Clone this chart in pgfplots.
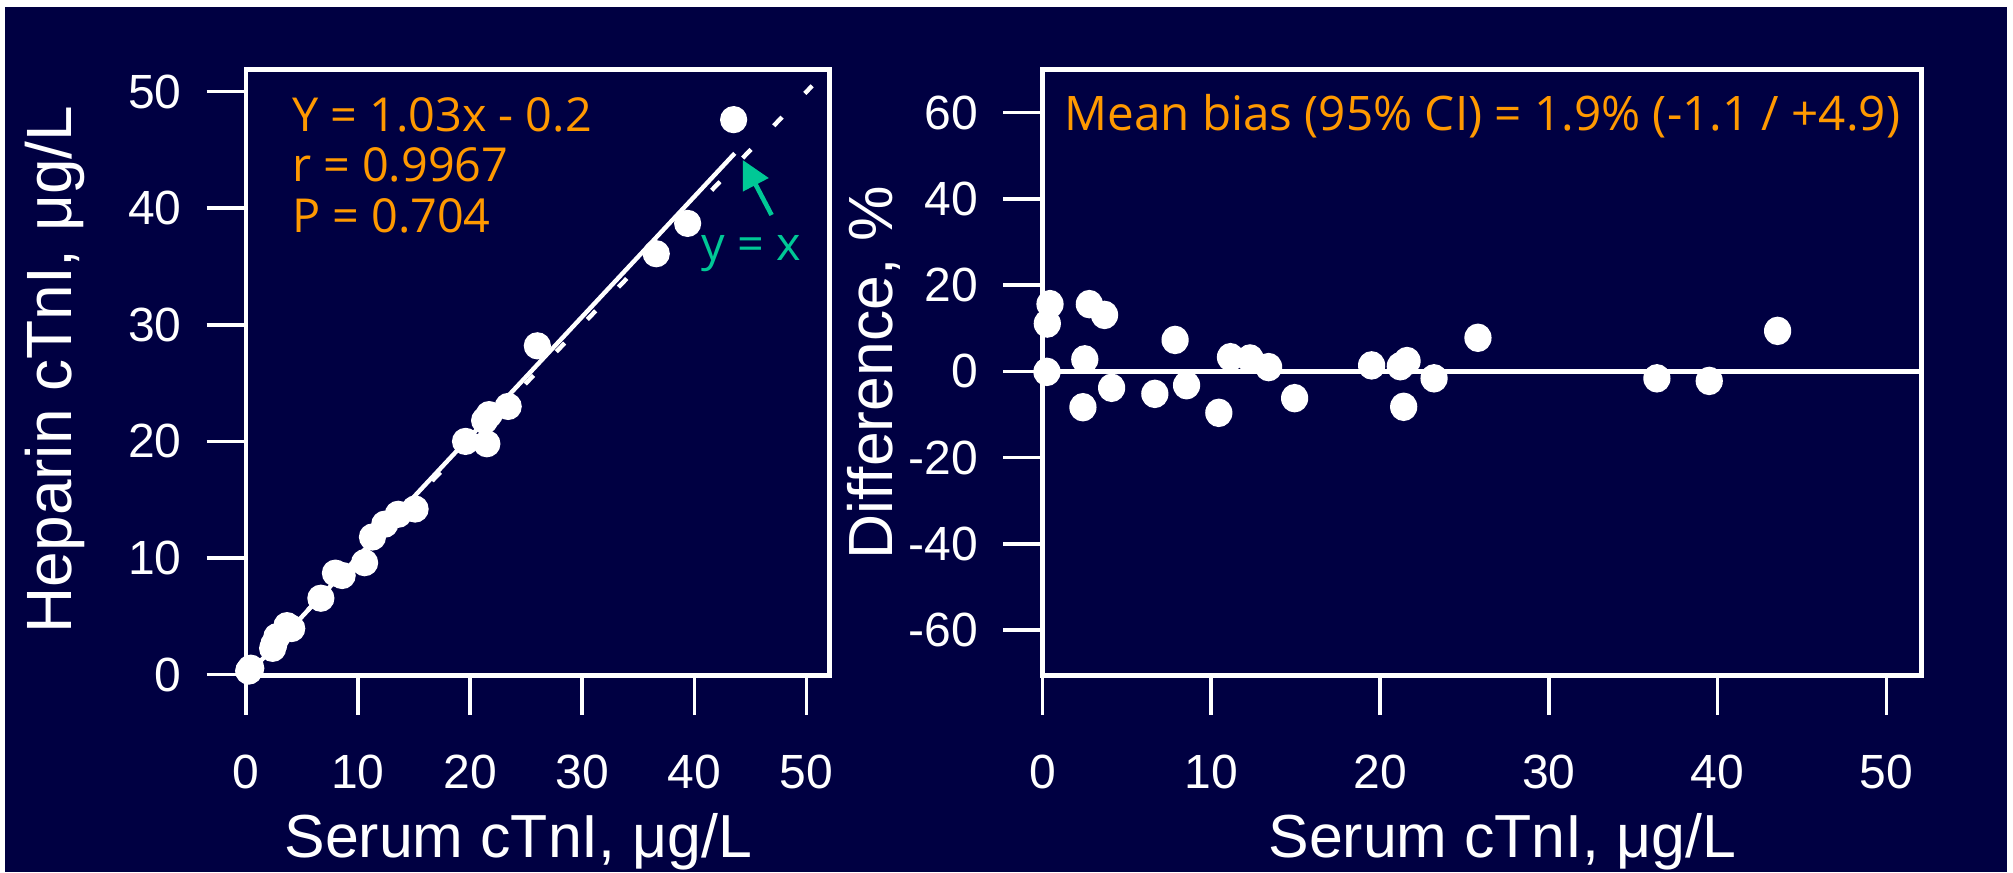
\documentclass[border=0pt]{standalone}
\usepackage{fontspec}
\setmainfont{Liberation Sans}
\newfontfamily\annfont{Open Sans}
\usepackage{pgfplots}
\usepackage{pgfplotstable}
\pgfplotsset{compat=1.18}
\usetikzlibrary{arrows.meta}
\definecolor{navy}{RGB}{0,0,66}
\definecolor{orng}{RGB}{255,153,0}
\definecolor{tealc}{RGB}{0,200,150}

\pgfplotstableread{
x y
0.27 0.30
0.29 0.35
0.45 0.55
2.40 2.25
2.51 2.60
2.78 3.25
3.68 4.20
4.10 3.95
6.70 6.55
8.00 8.70
8.60 8.50
10.60 9.60
11.30 11.80
12.40 12.90
13.60 13.75
15.10 14.20
19.60 20.00
21.50 19.80
21.30 21.80
21.70 22.30
23.40 23.00
26.00 28.20
36.60 36.10
39.40 38.70
43.50 47.60
}\leftdata

\pgfplotstableread{
x d
0.45 15.6
0.29 11.1
0.27 -0.1
2.78 15.6
3.68 13.1
2.51 2.8
2.40 -8.3
4.10 -3.8
6.66 -5.2
7.86 7.3
8.54 -3.2
10.45 -9.6
11.14 3.3
12.30 3.0
13.40 1.0
14.94 -6.2
19.50 1.4
21.20 1.2
21.60 2.4
21.40 -8.2
23.20 -1.6
25.80 7.8
36.40 -1.6
39.50 -2.2
43.55 9.4
}\rightdata

\pgfplotsset{rstyle/.style={
  scale only axis,
  axis line style={white, line width=1.1pt},
  tick style={white, line width=0.9pt},
  major tick length=9.75pt,
  tick align=outside,
  xtick pos=left, ytick pos=left,
  tick label style={text=white, font=\fontsize{12}{13}\selectfont},
  xticklabel style={yshift=-6.5pt},
  yticklabel style={xshift=-2.75pt},
  /pgf/number format/assume math mode=true,
  label style={text=white},
  clip=false,
}}

\begin{document}
\begin{tikzpicture}
\useasboundingbox (0,0) rectangle (503.25pt,218pt);
\fill[white] (0,0) rectangle (503.25pt,218pt);
\fill[navy] (1.25pt,0) rectangle (501.75pt,216.25pt);

\begin{axis}[rstyle, at={(61.43pt,49.125pt)}, anchor=south west,
  width=145.95pt, height=151.5pt,
  xmin=0, xmax=52.05, ymin=-0.08, ymax=51.9,
  xtick={0,10,...,50}, ytick={0,10,...,50},
  xlabel={Serum cTnI, μg/L}, ylabel={Heparin cTnI, μg/L},
  xlabel style={at={(axis description cs:0.467,-0.300)}, anchor=base, font=\fontsize{15.2}{16}\selectfont},
  ylabel style={at={(axis description cs:-0.298,0.505)}, anchor=base, font=\fontsize{16}{17}\selectfont},
]
\addplot[white, line width=1.1pt] coordinates {(0.3,0.109) (43.6,44.71)};
\addplot[white, line width=1.1pt, dash pattern=on 3pt off 8.2pt] coordinates {(0,0) (50.5,50.5)};
\addplot[only marks, mark=*, mark size=3.2pt, mark options={draw=white, fill=white}] table[x=x,y=y]{\leftdata};
\end{axis}

\begin{axis}[rstyle, at={(260.6pt,49.125pt)}, anchor=south west,
  width=219.8pt, height=151.5pt,
  xmin=0, xmax=52.08, ymin=-70.5, ymax=70,
  xtick={0,10,...,50}, ytick={-60,-40,...,60},
  xlabel={Serum cTnI, μg/L}, ylabel={Difference, \%},
  xlabel style={at={(axis description cs:0.523,-0.300)}, anchor=base, font=\fontsize{15.2}{16}\selectfont},
  ylabel style={at={(axis description cs:-0.170,0.5)}, anchor=base, font=\fontsize{15.6}{17}\selectfont},
]
\addplot[white, line width=1.1pt] coordinates {(0,0) (52.08,0)};
\addplot[only marks, mark=*, mark size=3.2pt, mark options={draw=white, fill=white, yscale=1.05}] table[x=x,y=d]{\rightdata};
\end{axis}

\begin{scope}[every node/.style={inner sep=0pt, anchor=base west}]
\node[text=orng, font=\annfont\fontsize{11.7}{12}\selectfont] at (72.8pt,185.1pt) {Y = 1.03x - 0.2};
\node[text=orng, font=\annfont\fontsize{11.7}{12}\selectfont] at (72.8pt,172.6pt) {r = 0.9967};
\node[text=orng, font=\annfont\fontsize{11.7}{12}\selectfont] at (72.8pt,159.8pt) {P = 0.704};
\node[text=tealc, font=\annfont\fontsize{11.7}{12}\selectfont] at (175.2pt,153pt) {y = x};
\node[text=orng, font=\annfont\fontsize{11.9}{12}\selectfont] at (265.9pt,185.5pt) {Mean bias (95\% CI) = 1.9\% (-1.1 / +4.9)};
\end{scope}
\draw[tealc, line width=1.15pt, -{Triangle[length=7pt,width=7pt]}] (192.9pt,164.25pt) -- (185.7pt,178pt);
\end{tikzpicture}
\end{document}
